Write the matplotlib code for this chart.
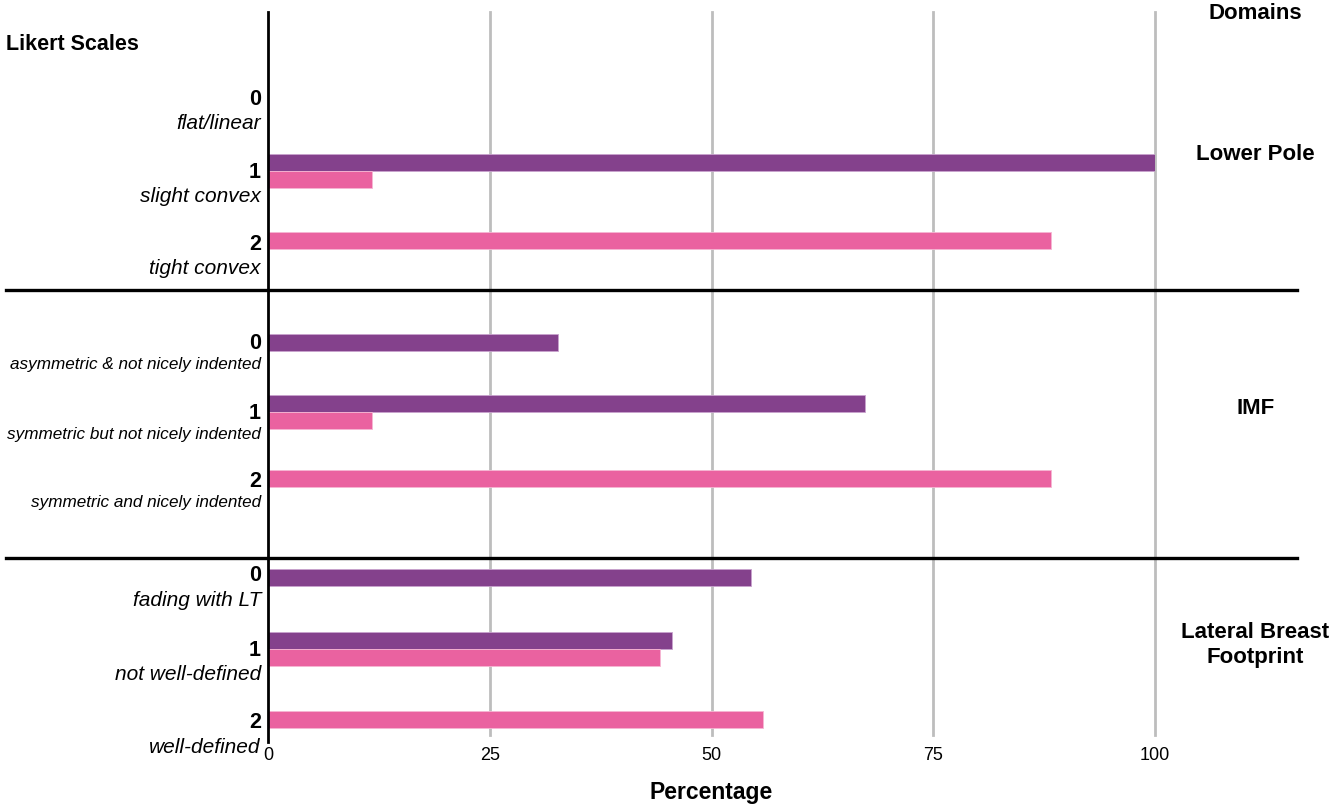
import numpy as np
import matplotlib
matplotlib.use("Agg")
import matplotlib.pyplot as plt

# ==============================
# DATA
# ==============================
domains = ["Lower Pole", "IMF", "Lateral Breast\nFootprint"]
scores = ["0", "1", "2"] * 3
score_labels = [
    "flat/linear", "slight convex", "tight convex",
    "asymmetric & not nicely indented", "symmetric but not nicely indented",
    "symmetric and nicely indented",
    "fading with LT", "not well-defined", "well-defined",
]
purple_vals = [0, 100, 0, 32.7, 67.3, 0, 54.5, 45.5, 0]
pink_vals = [0, 11.7, 88.3, 0, 11.7, 88.3, 0, 44.2, 55.8]
x_ticks = [0, 25, 50, 75, 100]

# ==============================
# LAYOUT (row positions in an inverted pixel-like scale)
# ==============================
row_y = [97, 171, 241, 343, 412, 479, 578, 649, 720]
num_off = [3, 2, 4, 1, 2, 3, -2, 2, 3]
label_size = [15, 15, 15, 12.3, 12.3, 12.3, 15, 15, 15]
label_gap = [24, 24, 24, 21, 21, 21, 25, 24, 25]
sep_y = [290, 558]
domain_y = [155, 409, 645]
bar_h = 17

PURPLE = "#84418C"
PINK = "#EA62A0"

plt.rcParams["font.family"] = ["Liberation Sans", "DejaVu Sans"]

fig = plt.figure(figsize=(13.34, 8.05), dpi=100)
ax = fig.add_axes([268 / 1334, 1 - 735 / 805, 887 / 1334, 723 / 805])
ax.set_xlim(0, 100)
ax.set_ylim(735, 12)

# grid
for t in x_ticks[1:]:
    ax.axvline(t, color="#BDBDBD", lw=2, zorder=0, clip_on=False)

# bars
for y, p, k in zip(row_y, purple_vals, pink_vals):
    if p > 0 and k > 0:
        yp, yk = y - bar_h / 2, y + bar_h / 2
    else:
        yp = yk = y
    if p > 0:
        ax.barh(yp, p, height=bar_h, color=PURPLE, edgecolor="#C9A3CE", lw=0.6, zorder=2)
    if k > 0:
        ax.barh(yk, k, height=bar_h, color=PINK, edgecolor="#F6B6D3", lw=0.6, zorder=2)

# y axis line
ax.plot([0, 0], [12, 742], color="black", lw=2, clip_on=False, zorder=3)

# separators
for s in sep_y:
    ax.plot([-29.5, 116.0], [s, s], color="black", lw=2.4, clip_on=False, zorder=3)

# score labels
for y, o, g, sc, lab, fs in zip(row_y, num_off, label_gap, scores, score_labels, label_size):
    ax.text(-0.8, y + o, sc, ha="right", va="center", fontsize=15.5,
            fontweight="bold", clip_on=False)
    ax.text(-0.8, y + o + g, lab, ha="right", va="center", fontsize=fs,
            style="italic", clip_on=False)

# domain labels
for d, y in zip(domains, domain_y):
    ax.text(111.3, y, d, ha="center", va="center", fontsize=16,
            fontweight="bold", clip_on=False, linespacing=1.25)
ax.text(111.3, 14, "Domains", ha="center", va="center", fontsize=16,
        fontweight="bold", clip_on=False)
ax.text(-29.5, 45, "Likert Scales", ha="left", va="center", fontsize=15.5,
        fontweight="bold", clip_on=False)

# x axis
ax.set_xticks(x_ticks)
ax.set_xticklabels([str(t) for t in x_ticks], fontsize=13)
ax.tick_params(axis="x", length=0, pad=9)
ax.set_yticks([])
for sp in ax.spines.values():
    sp.set_visible(False)
ax.set_xlabel("Percentage", fontsize=16.5, fontweight="bold", labelpad=12)

fig.savefig("out.png", dpi=100)
